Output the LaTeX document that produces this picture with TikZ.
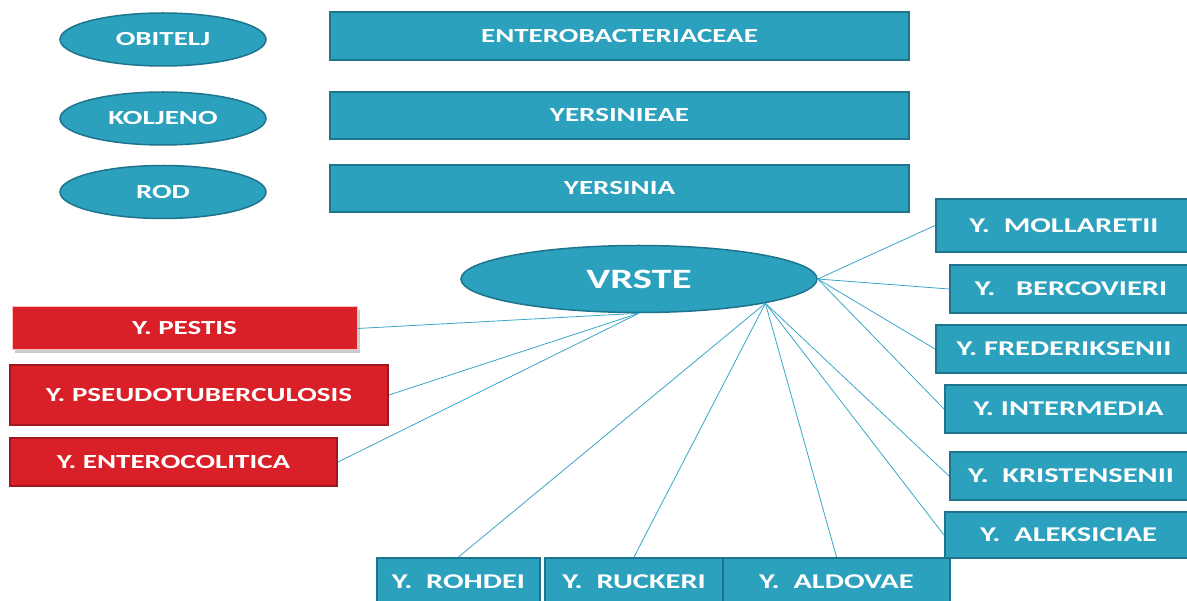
\documentclass[tikz,border=0pt]{standalone}
\usepackage{fontspec}
\setmainfont{Carlito}[FakeStretch=1.45]
\usetikzlibrary{shapes.geometric,shadows}
\definecolor{tealA}{RGB}{44, 161, 190}
\definecolor{tealD}{RGB}{30, 116, 140}
\definecolor{redA} {RGB}{217, 31, 39}
\definecolor{redD} {RGB}{162, 22, 30}
\definecolor{lineA}{RGB}{56, 166, 200}

\begin{document}
\begin{tikzpicture}[x=1pt, y=-1pt,
  rank/.style={ellipse, draw=tealD, fill=tealA, line width=1.5pt, inner sep=0pt,
    minimum width=206pt, minimum height=53pt, text=white,
    font=\bfseries\fontsize{20pt}{24pt}\selectfont},
  taxon/.style={rectangle, draw=tealD, fill=tealA, line width=1.5pt, inner sep=0pt,
    minimum width=579pt, minimum height=47pt, text=white,
    font=\bfseries\fontsize{20pt}{24pt}\selectfont},
  species/.style={rectangle, draw=tealD, fill=tealA, line width=2pt, inner sep=0pt,
    minimum height=48pt, text=white,
    font=\bfseries\fontsize{21pt}{25pt}\selectfont},
  pathogen/.style={species, draw=redD, fill=redA,
    font=\bfseries\fontsize{20pt}{24pt}\selectfont},
  link/.style={draw=lineA, line width=0.8pt}]

  \useasboundingbox (0,0) rectangle (1187,601);
  \clip (0,0) rectangle (1187,601);

  % ranks on the left
  \node[rank] (obitelj) at (163,39.5)  {OBITELJ};
  \node[rank] (koljeno) at (163,118.5) {KOLJENO};
  \node[rank] (rod)     at (163,192)   {ROD};

  \node[taxon, minimum height=48pt] (family) at (619.5,36)    {ENTEROBACTERIACEAE};
  \node[taxon]                      (tribe)  at (619.5,115.5) {YERSINIEAE};
  \node[taxon]                      (genus)  at (619.5,188.5) {YERSINIA};

  \node[ellipse, draw=tealD, fill=tealA, line width=1.5pt, inner sep=0pt,
    minimum width=356pt, minimum height=67pt, text=white,
    font=\bfseries\fontsize{28pt}{32pt}\selectfont] (vrste) at (639,279) {VRSTE};

  % pathogenic species
  \node[pathogen, draw=red!25, line width=1pt, minimum width=345pt, minimum height=43pt,
    drop shadow={fill=black!45, opacity=0.45, shadow xshift=3pt, shadow yshift=-3pt}]
    (pestis) at (184.5,328.5) {Y. PESTIS};
  \node[pathogen, minimum width=378pt, minimum height=60pt] (pseudo) at (199,395)   {Y. PSEUDOTUBERCULOSIS};
  \node[pathogen, minimum width=327pt]                      (entero) at (173.5,462) {Y. ENTEROCOLITICA};

  % other species
  \node[species, minimum width=256pt, minimum height=53pt] (mollaretii)    at (1064,225.5) {Y.\ \ MOLLARETII};
  \node[species, minimum width=242pt]                      (bercovieri)    at (1071,289)   {Y.\ \ \ BERCOVIERI};
  \node[species, minimum width=256pt]                      (frederiksenii) at (1064,349)   {Y. FREDERIKSENII};
  \node[species, minimum width=247pt]                      (intermedia)    at (1068.5,409) {Y. INTERMEDIA};
  \node[species, minimum width=242pt]                      (kristensenii)  at (1071,476)   {Y.\ \ KRISTENSENII};
  \node[species, minimum width=247pt, minimum height=46pt] (aleksiciae)    at (1068.5,535) {Y.\ \ ALEKSICIAE};

  \node[species, minimum width=163pt] (rohdei)  at (458.5,582) {Y.\ \ ROHDEI};
  \node[species, minimum width=178pt] (ruckeri) at (634,582)   {Y.\ \ RUCKERI};
  \node[species, minimum width=227pt] (aldovae) at (836.5,582) {Y.\ \ ALDOVAE};

  % connectors
  \draw[link] (vrste.south) -- (pestis.east);
  \draw[link] (vrste.south) -- (pseudo.east);
  \draw[link] (vrste.south) -- (entero.east);

  \draw[link] (vrste.east) -- (mollaretii.west);
  \draw[link] (vrste.east) -- (bercovieri.west);
  \draw[link] (vrste.east) -- (frederiksenii.west);
  \draw[link] (vrste.east) -- (intermedia.west);

  \draw[link] (vrste.south east) -- (kristensenii.west);
  \draw[link] (vrste.south east) -- (aleksiciae.west);
  \draw[link] (vrste.south east) -- (rohdei.north);
  \draw[link] (vrste.south east) -- (ruckeri.north);
  \draw[link] (vrste.south east) -- (aldovae.north);
\end{tikzpicture}
\end{document}
